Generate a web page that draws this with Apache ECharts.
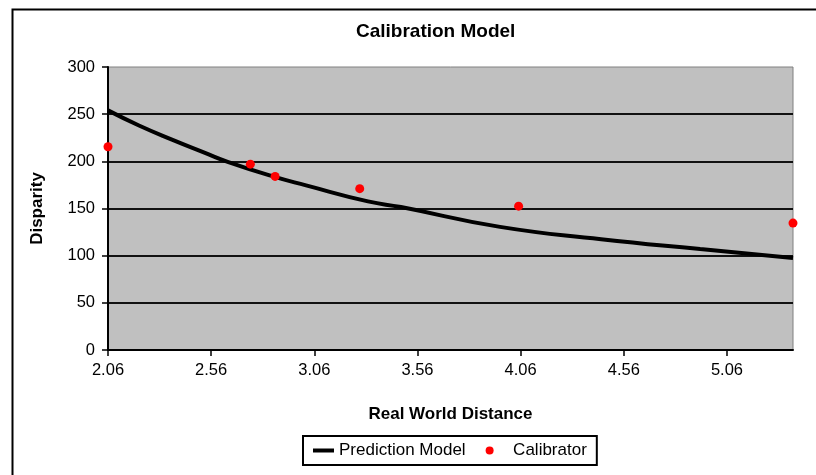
<!DOCTYPE html>
<html>
<head>
<meta charset="utf-8">
<script src="https://cdn.jsdelivr.net/npm/echarts@6/dist/echarts.min.js"></script>
<style>
  html, body { margin: 0; padding: 0; background: #fff; }
  #chart { width: 816px; height: 475px; }
</style>
</head>
<body>
<div id="chart"></div>
<script>
// fitted model curve
var modelX = [2.06, 2.21, 2.37, 2.53, 2.64, 2.86, 3.02, 3.32, 3.48, 3.96, 4.45, 4.93, 5.38];
var modelY = [254, 238, 223, 209, 199.5, 184, 174.5, 157.5, 151.5, 130.5, 117.5, 107, 97.5];
// calibration points
var calX = [2.06, 2.75, 2.87, 3.28, 4.05, 5.38];
var calY = [215.5, 197, 184, 171, 152.5, 134.5];
// x tick labels
var xTicks = [2.06, 2.56, 3.06, 3.56, 4.06, 4.56, 5.06];

var font = 'Liberation Sans, Arial, sans-serif';

function pairs(xs, ys) {
	var out = [];
	for (var i = 0; i < xs.length; i++) {
		out.push([xs[i], ys[i]]);
	}
	return out;
}

var myChart = echarts.init(document.getElementById('chart'), null, { renderer: 'canvas' });
var option = {
	animation: false,
	backgroundColor: '#fff',
	// outer frame of the chart sheet
	graphic: [{
		type: 'rect',
		left: 10, top: 7,
		shape: { width: 900, height: 600 },
		style: { fill: 'none', stroke: '#000', lineWidth: 2 },
		z: -10
	}],
	title: {
		text: 'Calibration Model',
		left: 356, top: 22, padding: 0,
		textStyle: { fontFamily: font, fontSize: 19, fontWeight: 'bold', color: '#000' }
	},
	legend: {
		left: 303, top: 436,
		padding: [6, 10, 6, 8],
		borderColor: '#000', borderWidth: 2,
		itemWidth: 21, itemHeight: 8, itemGap: 20,
		textStyle: { fontFamily: font, fontSize: 17, color: '#000' },
		data: [
			{ name: 'Prediction Model', itemStyle: { opacity: 0 }, lineStyle: { width: 4, color: '#000' } },
			{ name: 'Calibrator', itemStyle: { opacity: 1 }, textStyle: { padding: [0, 0, 0, 8] } }
		]
	},
	grid: {
		left: 108, top: 67, right: 23, bottom: 125,
		show: true, backgroundColor: '#c0c0c0', borderColor: '#808080', borderWidth: 1
	},
	xAxis: {
		type: 'value', min: 2.06, max: 5.38,
		name: 'Real World Distance', nameLocation: 'middle', nameGap: 56,
		nameTextStyle: { fontFamily: font, fontSize: 17, fontWeight: 'bold', color: '#000' },
		axisLine: { lineStyle: { color: '#000', width: 2 } },
		axisTick: { customValues: xTicks, length: 6, lineStyle: { color: '#000', width: 1.5 } },
		axisLabel: {
			customValues: xTicks, margin: 12,
			fontFamily: font, fontSize: 16.5, color: '#000',
			formatter: function (v) { return v.toFixed(2); }
		},
		splitLine: { show: false }
	},
	yAxis: {
		type: 'value', min: 0, max: 300, interval: 50,
		name: 'Disparity', nameLocation: 'middle', nameGap: 62, nameRotate: 90,
		nameTextStyle: { fontFamily: font, fontSize: 17, fontWeight: 'bold', color: '#000' },
		axisLine: { show: true, lineStyle: { color: '#000', width: 2 } },
		axisTick: { show: true, length: 6, lineStyle: { color: '#000', width: 1.5 } },
		axisLabel: { margin: 13, fontFamily: font, fontSize: 16.5, color: '#000' },
		splitLine: { show: true, showMaxLine: false, lineStyle: { color: '#111', width: 2 } }
	},
	series: [{
		name: 'Prediction Model',
		type: 'line',
		smooth: true,
		symbol: 'none',
		lineStyle: { color: '#000', width: 4 },
		itemStyle: { color: '#000' },
		data: pairs(modelX, modelY),
		z: 3
	}, {
		name: 'Calibrator',
		type: 'scatter',
		symbol: 'circle',
		symbolSize: 9,
		itemStyle: { color: '#ff0000', opacity: 1 },
		data: pairs(calX, calY),
		z: 4
	}]
};
myChart.setOption(option);
</script>
</body>
</html>
